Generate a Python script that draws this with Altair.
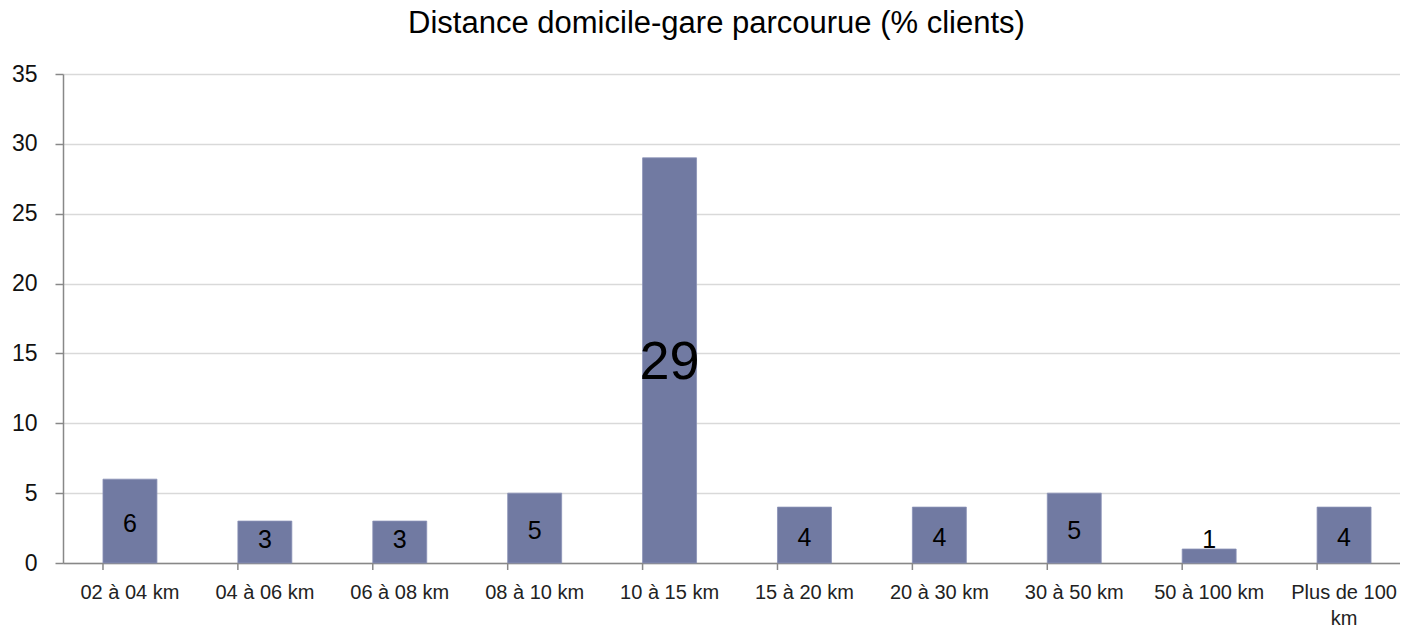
import altair as alt
import pandas as pd

categories = ["02 à 04 km", "04 à 06 km", "06 à 08 km", "08 à 10 km", "10 à 15 km",
              "15 à 20 km", "20 à 30 km", "30 à 50 km", "50 à 100 km", "Plus de 100 km"]
values = [6, 3, 3, 5, 29, 4, 4, 5, 1, 4]
y_ticks = [0, 5, 10, 15, 20, 25, 30, 35]

df = pd.DataFrame({"cat": categories, "value": values})

FONT = "Liberation Sans"
W, H = 1337, 489

xscale = alt.Scale(paddingInner=0.6, paddingOuter=0.2555, align=0.58)
yscale = alt.Scale(domain=[0, 35], nice=False)

base = alt.Chart(df)

bars = base.mark_bar(color="#717AA2", stroke="#8a92b6", strokeWidth=0.8).encode(
    x=alt.X("cat:N", sort=categories, scale=xscale, title=None,
            axis=alt.Axis(labelAngle=0, labelFont=FONT, labelFontSize=20, labelColor="#222",
                          labelPadding=19, ticks=False, domainColor="#888", domainWidth=1.5,
                          labelLineHeight=26,
                          labelExpr="datum.label == 'Plus de 100 km' ? ['Plus de 100', 'km'] : datum.label")),
    y=alt.Y("value:Q", scale=yscale, title=None,
            axis=alt.Axis(values=y_ticks, labelFont=FONT, labelFontSize=23, labelColor="#111",
                          labelPadding=18, tickSize=8, tickColor="#888", tickWidth=1.5,
                          domainColor="#888", domainWidth=1.5,
                          gridColor="#d9d9d9", gridWidth=1.5)),
)

xticks = base.mark_rule(color="#888", strokeWidth=1.5).encode(
    x=alt.X("cat:N", sort=categories, scale=xscale, bandPosition=0),
    y=alt.value(H),
    y2=alt.value(H + 7),
)

labels = base.transform_calculate(
    pos="max(datum.value / 2, 1.85)"
).mark_text(font=FONT, color="#000", baseline="middle", dy=3).encode(
    x=alt.X("cat:N", sort=categories, scale=xscale),
    y=alt.Y("pos:Q", scale=yscale),
    text=alt.Text("value:Q"),
    size=alt.condition("datum.value > 20", alt.value(54), alt.value(25)),
)

chart = alt.layer(bars, xticks, labels).properties(
    width=W, height=H,
    title=alt.TitleParams("Distance domicile-gare parcourue (% clients)", font=FONT,
                          fontSize=31, fontWeight="normal", color="#000", offset=23,
                          anchor="middle", dx=-15),
    autosize=alt.AutoSizeParams(type="none"),
    padding={"left": 55, "top": 66, "right": 0, "bottom": 62},
).configure_view(stroke=None)

chart.save("out.html", embed_options={"renderer": "svg", "actions": False})
